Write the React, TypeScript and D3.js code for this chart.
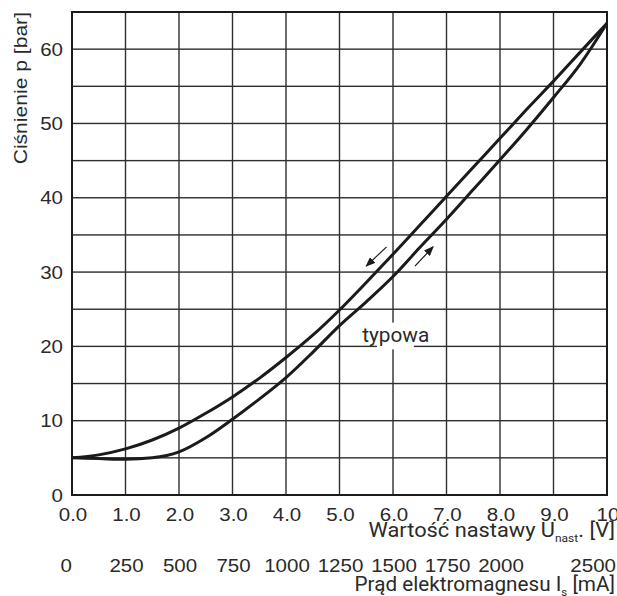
import React from "react";
import * as d3 from "d3";

// Setpoint voltage samples [V] and the two branches of the pressure curve [bar]
const VOLTAGE = [0, 0.5, 1, 1.5, 2, 2.5, 3, 3.5, 4, 4.5, 5, 5.5, 6, 6.5, 7, 7.5, 8, 8.5, 9, 9.5, 10];
const PRESSURE_FALLING = [5.0, 5.4, 6.2, 7.4, 9.0, 11.0, 13.2, 15.7, 18.5, 21.5, 24.9, 28.6, 32.4, 36.3, 40.2, 44.1, 48.0, 51.9, 55.7, 59.6, 63.5];
const PRESSURE_RISING = [5.0, 4.9, 4.8, 5.0, 5.8, 7.7, 10.2, 12.9, 15.8, 19.2, 22.8, 26.0, 29.4, 33.3, 37.1, 41.1, 45.1, 49.2, 53.5, 58.0, 63.5];

// Axis ticks
const VOLT_TICKS = [0, 1, 2, 3, 4, 5, 6, 7, 8, 9, 10];
const VOLT_LABELS = ["0.0", "1.0", "2.0", "3.0", "4.0", "5.0", "6.0", "7.0", "8.0", "9.0", "10"];
const PRESSURE_TICKS = [0, 10, 20, 30, 40, 50, 60];
const PRESSURE_GRID = [5, 10, 15, 20, 25, 30, 35, 40, 45, 50, 55, 60];
const CURRENT_TICKS = [0, 250, 500, 750, 1000, 1250, 1500, 1750, 2000, 2500];
const MA_PER_VOLT = 250;

const W = 617;
const H = 596;
const M = { left: 72, right: 607, top: 12, bottom: 495 };

const TICK_FONT = "'Liberation Sans', Arial, Helvetica, sans-serif";
const TITLE_FONT = "Roboto, 'Noto Sans', sans-serif";
const TICK_SIZE = 19;
const TICK_STRETCH = 1.08;

const ink = "#1b1b1b";
const gridColor = "#2e2e2e";
const textColor = "#2a2a2a";
const GRID_W = 1.4;

function TickText(props: { x: number; y: number; anchor: string; dy?: string; children: React.ReactNode }) {
  return (
    <g transform={`translate(${props.x},${props.y}) scale(${TICK_STRETCH},1)`}>
      <text
        x={0}
        y={0}
        dy={props.dy}
        textAnchor={props.anchor}
        fontFamily={TICK_FONT}
        fontSize={TICK_SIZE}
        fill={textColor}
      >
        {props.children}
      </text>
    </g>
  );
}

export default function App() {
  const x = d3.scaleLinear().domain([0, 10]).range([M.left, M.right]);
  const y = d3.scaleLinear().domain([0, 65]).range([M.bottom, M.top]);

  const line = d3
    .line<number>()
    .x((_, i) => x(VOLTAGE[i]))
    .y((d) => y(d))
    .curve(d3.curveMonotoneX);

  return (
    <svg
      width={W}
      height={H}
      style={{ position: "absolute", left: 0, top: 0, background: "#fff" }}
    >
      <defs>
        <marker
          id="head"
          viewBox="0 0 10 8"
          refX="9"
          refY="4"
          markerWidth="10"
          markerHeight="8"
          markerUnits="userSpaceOnUse"
          orient="auto"
        >
          <path d="M0,0 L10,4 L0,8 Z" fill={ink} />
        </marker>
      </defs>

      {/* grid: horizontal every 5 bar, vertical every 1 V */}
      <g fill={gridColor}>
        {PRESSURE_GRID.map((v) => (
          <rect key={"h" + v} x={M.left} y={y(v) - GRID_W / 2} width={M.right - M.left} height={GRID_W} />
        ))}
        {VOLT_TICKS.slice(1, -1).map((v) => (
          <rect key={"v" + v} x={x(v) - GRID_W / 2} y={M.top} width={GRID_W} height={M.bottom - M.top} />
        ))}
      </g>

      {/* label box on the grid */}
      <rect x={x(5.7)} y={y(23.2)} width={x(6.39) - x(5.7)} height={y(19.6) - y(23.2)} fill="#fff" />
      <g transform={`translate(${x(6.05)},${y(20) - 4}) scale(1.04,1)`}>
        <text x={0} y={0} textAnchor="middle" fontFamily={TITLE_FONT} fontSize={20} fill={textColor}>
          typowa
        </text>
      </g>

      {/* frame */}
      <rect
        x={M.left}
        y={M.top}
        width={M.right - M.left}
        height={M.bottom - M.top}
        fill="none"
        stroke={ink}
        strokeWidth={2}
      />

      {/* characteristic curves */}
      <path d={line(PRESSURE_FALLING) || ""} fill="none" stroke={ink} strokeWidth={3} strokeLinejoin="round" />
      <path d={line(PRESSURE_RISING) || ""} fill="none" stroke={ink} strokeWidth={3} strokeLinejoin="round" />

      {/* direction arrows */}
      <line x1={x(5.88)} y1={y(33.4)} x2={x(5.5)} y2={y(30.8)} stroke={ink} strokeWidth={1.2} markerEnd="url(#head)" />
      <line x1={x(6.41)} y1={y(30.8)} x2={x(6.75)} y2={y(33.4)} stroke={ink} strokeWidth={1.2} markerEnd="url(#head)" />

      {/* pressure axis */}
      {PRESSURE_TICKS.map((v) => (
        <TickText key={"yl" + v} x={M.left - 9} y={y(v)} dy="0.35em" anchor="end">
          {v}
        </TickText>
      ))}
      <g transform={`translate(27, ${M.top}) rotate(-90) scale(1.11,1)`}>
        <text x={0} y={0} textAnchor="end" fontFamily={TICK_FONT} fontSize={19} fill={textColor}>
          Ciśnienie p [bar]
        </text>
      </g>

      {/* voltage axis */}
      {VOLT_TICKS.map((v, i) => (
        <TickText key={"xl" + v} x={x(v) + 1} y={521} anchor="middle">
          {VOLT_LABELS[i]}
        </TickText>
      ))}
      <g transform={`translate(615,537) scale(1.09,1)`}>
        <text x={0} y={0} textAnchor="end" fontFamily={TITLE_FONT} fontSize={20} fill={textColor}>
          Wartość nastawy U
          <tspan fontSize={11} dy={5}>nast</tspan>
          <tspan dy={-5}>. [V]</tspan>
        </text>
      </g>

      {/* coil current axis */}
      {CURRENT_TICKS.map((v, i) => {
        const first = i === 0;
        const last = i === CURRENT_TICKS.length - 1;
        return (
          <TickText
            key={"cl" + v}
            x={last ? W - 1 : first ? x(v / MA_PER_VOLT) : x(v / MA_PER_VOLT) + 1}
            y={572}
            anchor={first || last ? "end" : "middle"}
          >
            {v}
          </TickText>
        );
      })}
      <g transform={`translate(615,591) scale(1.035,1)`}>
        <text x={0} y={0} textAnchor="end" fontFamily={TITLE_FONT} fontSize={20} fill={textColor}>
          Prąd elektromagnesu I
          <tspan fontSize={11} dy={5}>s</tspan>
          <tspan dy={-5}> [mA]</tspan>
        </text>
      </g>
    </svg>
  );
}
